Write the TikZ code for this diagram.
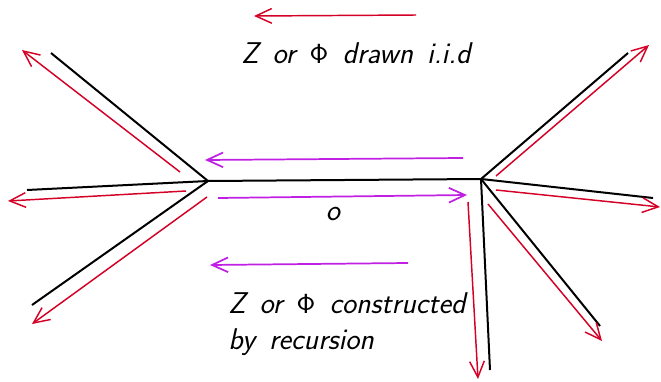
\documentclass[tikz,border=0pt]{standalone}
\usetikzlibrary{arrows.meta}
\definecolor{arred}{RGB}{212,0,38}
\definecolor{arpurple}{RGB}{192,32,228}
\newcommand\lblfont{\fontsize{22.5}{27}\selectfont\sffamily\itshape\spaceskip=0.47em\relax}
\begin{document}
\begin{tikzpicture}[x=0.75pt,y=-0.75pt,
  edge/.style={black,line width=1.5pt},
  redarr/.style={arred,line width=1.1pt,-{Straight Barb[length=12pt,width=11pt]}},
  purarr/.style={arpurple,line width=1.3pt,-{Straight Barb[length=12pt,width=11pt]}},
  lbl/.style={font=\lblfont,inner sep=0pt}]
\useasboundingbox (0,0) rectangle (661,382);
% tree vertices
\coordinate (L) at (208,181);
\coordinate (R) at (481,179);
\coordinate (L1) at (51,53);
\coordinate (L2) at (27,190);
\coordinate (L3) at (32,305);
\coordinate (R1) at (628,53);
\coordinate (R2) at (653,198);
\coordinate (R3) at (600,326);
\coordinate (R4) at (490,370);
\draw[edge] (L) -- (R);
\draw[edge] (L) -- (L1);
\draw[edge] (L) -- (L2);
\draw[edge] (L) -- (L3);
\draw[edge] (R) -- (R1);
\draw[edge] (R) -- (R2);
\draw[edge] (R) -- (R3);
\draw[edge] (R) -- (R4);
% red arrows
\coordinate (t0s) at (416,15); \coordinate (t0e) at (254,16);
\coordinate (a1s) at (180,172); \coordinate (a1e) at (22,50);
\coordinate (a2s) at (186,191); \coordinate (a2e) at (8,201);
\coordinate (a3s) at (207,197); \coordinate (a3e) at (32,324);
\coordinate (b1s) at (496,176); \coordinate (b1e) at (649,45);
\coordinate (b2s) at (496,190); \coordinate (b2e) at (660,207);
\coordinate (b3s) at (488,204); \coordinate (b3e) at (602,341);
\coordinate (b4s) at (468,202); \coordinate (b4e) at (478,379);
\draw[redarr] (t0s) -- (t0e);
\draw[redarr] (a1s) -- (a1e);
\draw[redarr] (a2s) -- (a2e);
\draw[redarr] (a3s) -- (a3e);
\draw[redarr] (b1s) -- (b1e);
\draw[redarr] (b2s) -- (b2e);
\draw[redarr] (b3s) -- (b3e);
\draw[redarr] (b4s) -- (b4e);
% purple arrows
\coordinate (p1s) at (463,158); \coordinate (p1e) at (205,160);
\coordinate (p2s) at (218,198); \coordinate (p2e) at (467,195);
\coordinate (p3s) at (408,263); \coordinate (p3e) at (210,265);
\draw[purarr] (p1s) -- (p1e);
\draw[purarr] (p2s) -- (p2e);
\draw[purarr] (p3s) -- (p3e);
% labels
\node[lbl,anchor=base west] (iid) at (241,63) {Z or $\mathsf{\Phi}$ drawn i.i.d};
\node[lbl,anchor=base] (o) at (333,220) {o};
\node[lbl,anchor=base west,align=left] (rec) at (228,349) {Z or $\mathsf{\Phi}$ constructed\\by recursion};
\end{tikzpicture}
\end{document}
